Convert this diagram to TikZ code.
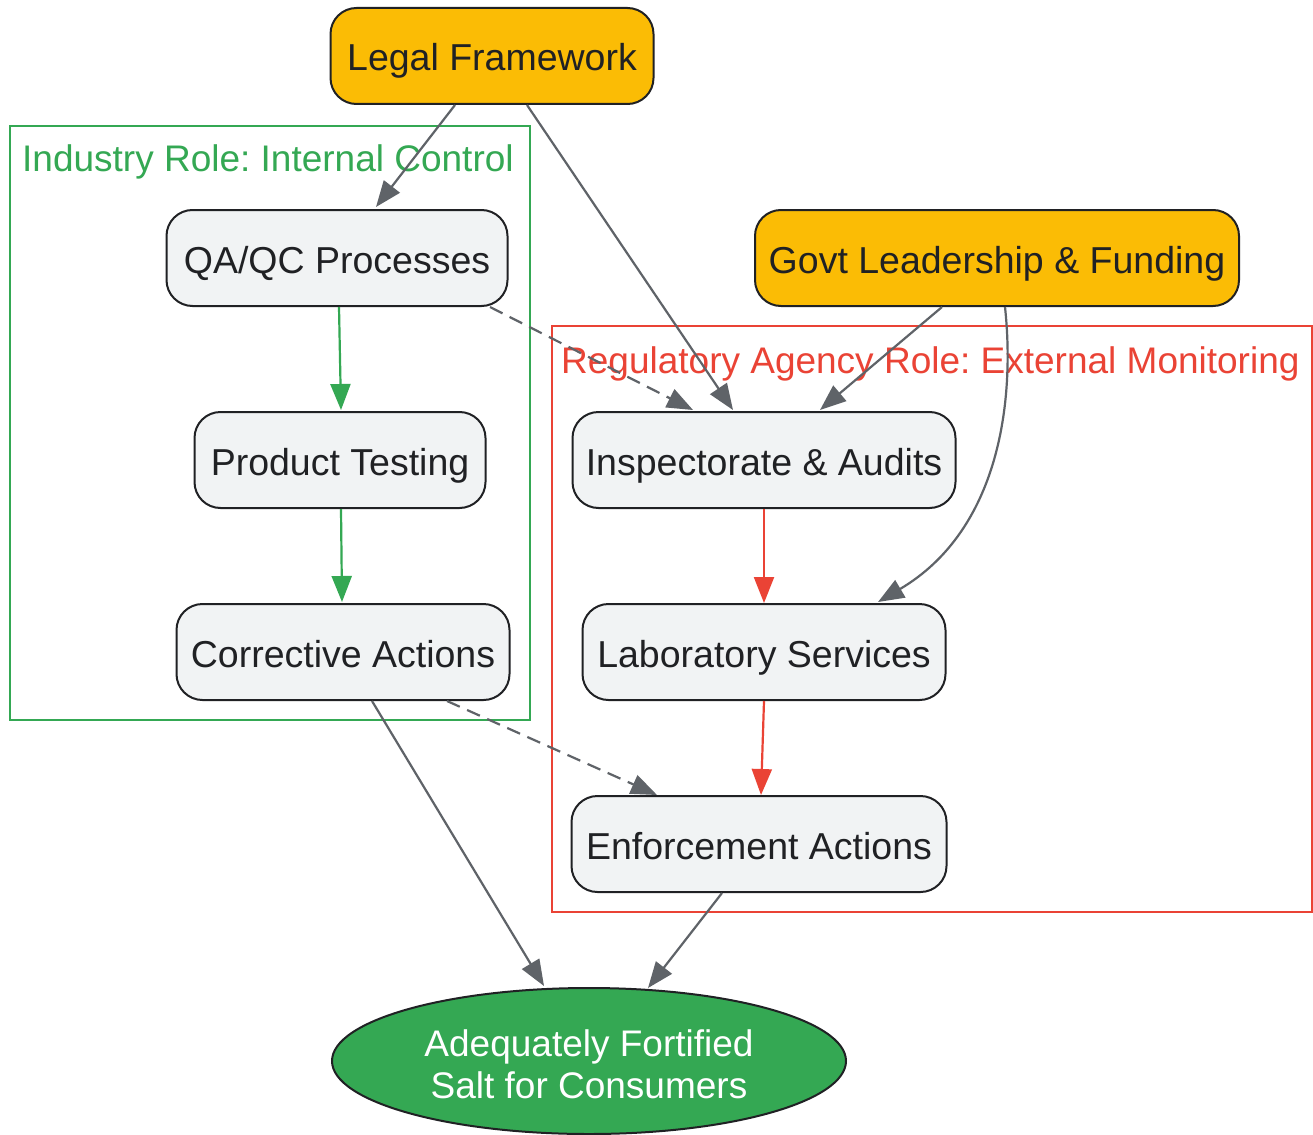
\documentclass[tikz,border=0pt]{standalone}
\usepackage{fontspec}
\setmainfont{Liberation Sans}
\usetikzlibrary{arrows.meta,shapes.geometric}
\definecolor{gedge}{HTML}{5F6368}
\definecolor{ggreen}{HTML}{34A853}
\definecolor{gred}{HTML}{EA4335}
\definecolor{gyellow}{HTML}{FBBC05}
\definecolor{gfill}{HTML}{F1F3F4}
\definecolor{gtext}{HTML}{202124}
\frenchspacing
\tikzset{
  box/.style={draw=gtext, line width=2pt, rounded corners=26pt, fill=gfill, minimum height=96pt, inner sep=0pt, text=gtext, font=\fontsize{37.5}{42}\selectfont, text height=30pt, text depth=0pt},
  topbox/.style={box, fill=gyellow},
  conn/.style={draw=gedge, line width=2.2pt, -{Triangle[length=26pt,width=20pt]}},
  gconn/.style={conn, draw=ggreen, -{Triangle[length=26pt,width=20pt,fill=ggreen]}},
  rconn/.style={conn, draw=gred, -{Triangle[length=26pt,width=20pt,fill=gred]}},
  dconn/.style={conn, dash pattern=on 14pt off 8pt},
  cluster/.style={line width=2pt},
  clabel/.style={anchor=west, inner sep=0pt, font=\fontsize{37}{40}\selectfont}
}
\begin{document}
\begin{tikzpicture}[x=1pt,y=1pt]
\useasboundingbox (0,0) rectangle (1313,-1134);
\fill[white] (0,0) rectangle (1313,-1134);
% clusters
\draw[cluster, draw=ggreen] (10,-126) rectangle (530,-720);
\node[clabel, text=ggreen] (lind) at (22,-162) {Industry Role: Internal Control};
\draw[cluster, draw=gred] (552,-326) rectangle (1312,-912);
\node[clabel, text=gred] (lreg) at (561,-364) {Regulatory Agency Role: External Monitoring};
% nodes
\node[topbox, minimum width=323pt] (legal) at (492,-56) {Legal Framework};
\node[topbox, minimum width=484pt] (govt) at (997,-258) {Govt Leadership \& Funding};
\node[box, minimum width=341pt] (qa) at (337,-258) {QA/QC Processes};
\node[box, minimum width=291pt] (pt) at (340,-460) {Product Testing};
\node[box, minimum width=333pt] (ca) at (343,-652) {Corrective Actions};
\node[box, minimum width=383pt] (ia) at (764,-460) {Inspectorate \& Audits};
\node[box, minimum width=363pt] (ls) at (764,-652) {Laboratory Services};
\node[box, minimum width=375pt] (ea) at (759,-844) {Enforcement Actions};
\node[ellipse, draw=gtext, line width=2pt, fill=ggreen, text=white, minimum width=514pt, minimum height=146pt, inner sep=0pt, align=center, font=\fontsize{37}{42}\selectfont] (salt) at (589,-1061) {\rule{0pt}{33pt}Adequately Fortified\\Salt for Consumers};
% edges
\draw[conn] (legal.south -| 455,0) -- (376,-207);
\draw[conn] (legal.south -| 527,0) -- (733,-410);
\draw[conn] (govt.south -| 942,0) -- (820,-410);
\draw[conn] (govt.south -| 1005,0) .. controls (1015,-400) and (1000,-530) .. (878,-602);
\draw[dconn] (qa.south -| 490,0) -- (693,-410);
\draw[gconn] (qa.south -| 339,0) -- (341,-410);
\draw[gconn] (pt.south -| 341,0) -- (342,-602);
\draw[rconn] (ia.south) -- (ls.north);
\draw[rconn] (ls.south) -- (ea.north -| 761,0);
\draw[dconn] (ca.south -| 447,0) -- (657,-795);
\draw[conn] (ca.south -| 372,0) -- (544,-986);
\draw[conn] (ea.south -| 722,0) -- (648,-988);
\end{tikzpicture}
\end{document}
